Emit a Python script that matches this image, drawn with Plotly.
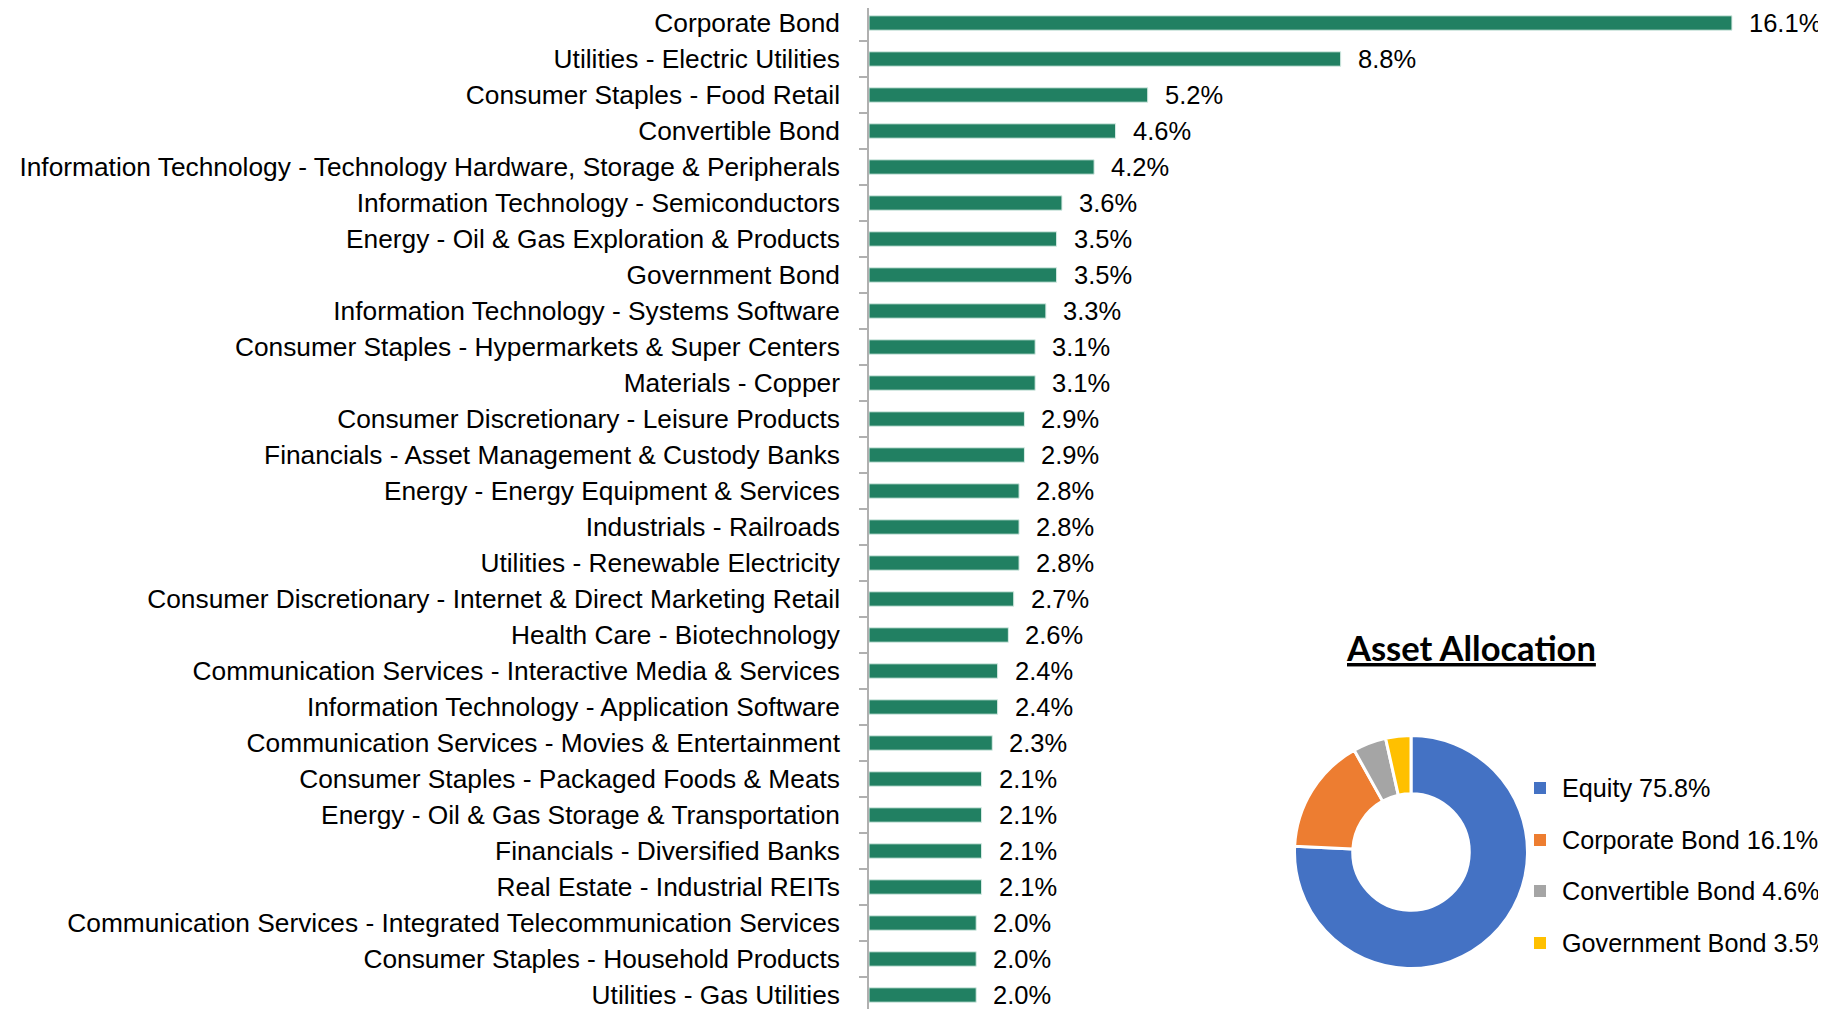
import plotly.graph_objects as go

# ---- data ----
sectors = [
    "Corporate Bond",
    "Utilities - Electric Utilities",
    "Consumer Staples - Food Retail",
    "Convertible Bond",
    "Information Technology - Technology Hardware, Storage & Peripherals",
    "Information Technology - Semiconductors",
    "Energy - Oil & Gas Exploration & Products",
    "Government Bond",
    "Information Technology - Systems Software",
    "Consumer Staples - Hypermarkets & Super Centers",
    "Materials - Copper",
    "Consumer Discretionary - Leisure Products",
    "Financials - Asset Management & Custody Banks",
    "Energy - Energy Equipment & Services",
    "Industrials - Railroads",
    "Utilities - Renewable Electricity",
    "Consumer Discretionary - Internet & Direct Marketing Retail",
    "Health Care - Biotechnology",
    "Communication Services - Interactive Media & Services",
    "Information Technology - Application Software",
    "Communication Services - Movies & Entertainment",
    "Consumer Staples - Packaged Foods & Meats",
    "Energy - Oil & Gas Storage & Transportation",
    "Financials - Diversified Banks",
    "Real Estate - Industrial REITs",
    "Communication Services - Integrated Telecommunication Services",
    "Consumer Staples - Household Products",
    "Utilities - Gas Utilities",
]
weights = [16.1, 8.8, 5.2, 4.6, 4.2, 3.6, 3.5, 3.5, 3.3, 3.1, 3.1, 2.9, 2.9, 2.8,
           2.8, 2.8, 2.7, 2.6, 2.4, 2.4, 2.3, 2.1, 2.1, 2.1, 2.1, 2.0, 2.0, 2.0]

asset_classes = ["Equity", "Corporate Bond", "Convertible Bond", "Government Bond"]
asset_values = [75.8, 16.1, 4.6, 3.5]
asset_colors = ["#4472C4", "#ED7D31", "#A5A5A5", "#FFC000"]

BAR_COLOR = "#218062"
FONT = "Liberation Sans, Arial, sans-serif"
# the page body has an 8px margin; the figure fills the rest of the window
W, H = 1818, 1001

fig = go.Figure()

fig.add_trace(go.Bar(
    x=weights, y=sectors, orientation="h",
    marker=dict(color=BAR_COLOR, line=dict(color="#d8ece5", width=1)),
    width=0.4, hoverinfo="x+y", showlegend=False,
))

# value labels
for s, v in zip(sectors, weights):
    fig.add_annotation(x=v, y=s, xref="x", yref="y", text=f"{v:.1f}%",
                       showarrow=False, xanchor="left", yanchor="middle",
                       xshift=15, font=dict(family=FONT, size=25.5, color="#000000"))

# donut
cx, cy, rad = 1403, 844, 116.5
fig.add_trace(go.Pie(
    labels=asset_classes, values=asset_values, hole=0.5, sort=False,
    direction="clockwise", rotation=0,
    marker=dict(colors=asset_colors, line=dict(color="#ffffff", width=3)),
    textinfo="none", showlegend=False,
    domain=dict(x=[(cx - rad) / W, (cx + rad) / W],
                y=[1 - (cy + rad) / H, 1 - (cy - rad) / H]),
))

# donut title
fig.add_annotation(x=1463 / W, y=1 - 639 / H, xref="paper", yref="paper",
                   text="<b><u>Asset Allocation</u></b>", showarrow=False,
                   xanchor="center", yanchor="middle",
                   font=dict(family="Lato, Open Sans, sans-serif", size=34.5, color="#000000"))

# legend (custom)
leg_y = [780, 832, 883, 935]
for name, val, col, ly in zip(asset_classes, asset_values, asset_colors, leg_y):
    fig.add_shape(type="rect", xref="paper", yref="paper",
                  x0=1526 / W, x1=1538 / W,
                  y0=1 - (ly + 6) / H, y1=1 - (ly - 6) / H,
                  fillcolor=col, line=dict(width=0))
    fig.add_annotation(x=1552 / W, y=1 - ly / H, xref="paper", yref="paper",
                       text=f"{name} {val:.1f}%", showarrow=False,
                       xanchor="left", yanchor="middle",
                       font=dict(family=FONT, size=25.2, color="#000000"))

x0 = 861
px_per = 53.6
row = 36.0
top_val = -15 / row
fig.update_layout(
    width=W, height=H,
    margin=dict(l=0, r=0, t=0, b=0),
    paper_bgcolor="white", plot_bgcolor="white",
    font=dict(family=FONT, size=26, color="#000000"),
    xaxis=dict(domain=[x0 / W, 1], range=[0, (W - x0) / px_per],
               showgrid=False, zeroline=False, showticklabels=False,
               showline=False, ticks=""),
    yaxis=dict(domain=[0, 1], type="category",
               categoryorder="array", categoryarray=sectors,
               range=[top_val + H / row, top_val], showgrid=False, zeroline=False,
               showline=True, linecolor="#b0b0b0", linewidth=1.5,
               ticks="outside", tickson="boundaries", ticklen=8,
               tickcolor="#b0b0b0", tickwidth=1.5,
               ticklabelstandoff=22,
               tickfont=dict(family=FONT, size=26.3, color="#000000")),
)

fig.write_html("out.html")
